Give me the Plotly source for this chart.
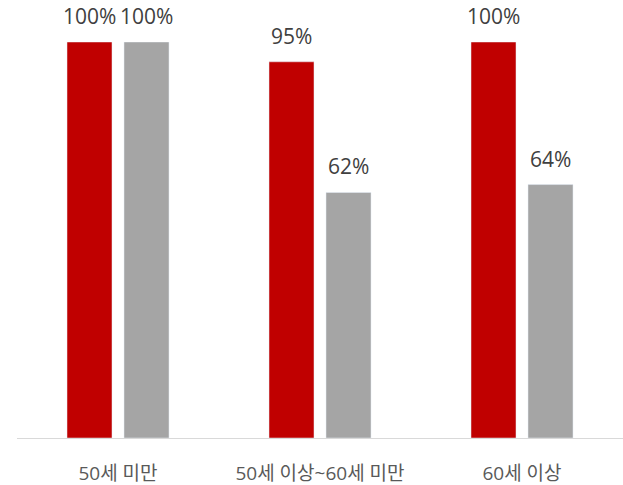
import plotly.graph_objects as go

categories = ["50세 미만", "50세 이상~60세 미만", "60세 이상"]
series_a = [100, 95, 100]
series_b = [100, 62, 64]

colors = ["#C00000", "#A5A5A5"]
bar_width = 0.2228
offsets = [-0.2525, 0.0297]
label_shift = [-28.5, 28.5]  # px from category centre to each bar centre

fig = go.Figure()
for vals, col, off in zip([series_a, series_b], colors, offsets):
    fig.add_trace(go.Bar(
        x=categories, y=vals, marker_color=col,
        width=bar_width, offset=off,
    ))

# value labels above each bar
for vals, dx in zip([series_a, series_b], label_shift):
    for cat, v in zip(categories, vals):
        fig.add_annotation(
            x=cat, y=v, text=f"{v}%", showarrow=False,
            xshift=dx, yshift=26, yanchor="middle",
            font=dict(family="Open Sans", size=21, color="#404040"),
        )

fig.update_layout(
    width=623, height=485,
    margin=dict(l=17, r=0, t=42, b=47),
    barmode="overlay",
    showlegend=False,
    plot_bgcolor="white", paper_bgcolor="white",
    font=dict(family="Open Sans, Noto Sans CJK KR", color="#595959"),
    xaxis=dict(
        showline=True, linecolor="#D9D9D9", linewidth=1,
        ticks="outside", ticklen=18, tickcolor="rgba(0,0,0,0)",
        tickfont=dict(size=19, color="#595959"),
        showgrid=False, range=[-0.5, 2.5], automargin=False,
    ),
    yaxis=dict(range=[0, 100], visible=False, showgrid=False),
)

fig.write_html("out.html")
